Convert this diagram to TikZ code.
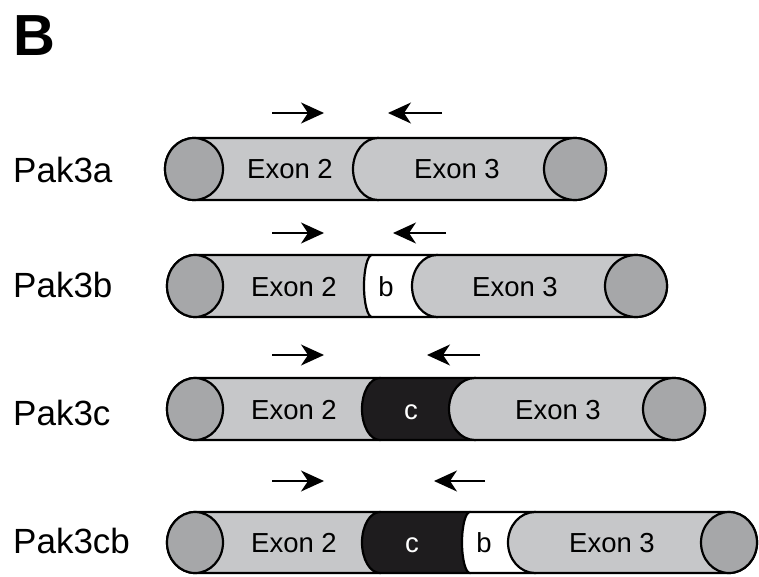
\documentclass[tikz,border=0pt]{standalone}
\usepackage{fontspec}
\setmainfont{Liberation Sans}
\usetikzlibrary{arrows.meta}
\definecolor{bodygray}{RGB}{198,199,201}
\definecolor{capgray}{RGB}{166,167,169}
\definecolor{cblack}{RGB}{30,28,30}
% segment: #1 fill, #2 start x, #3 start rx, #4 end x, #5 end rx, #6 ytop, #7 ybot, #8 ry
\newcommand{\pakseg}[8]{%
  \filldraw[segline, fill=#1] (#2,#6) -- (#4,#6)
    arc[start angle=-90, end angle=90, x radius=#5, y radius=#8]
    -- (#2,#7)
    arc[start angle=90, end angle=270, x radius=#3, y radius=#8] -- cycle;}
\tikzset{
  segline/.style={draw=black, line width=2.2pt, line join=round},
  capend/.style={draw=black, line width=2.2pt, fill=capgray},
  lbl/.style={anchor=base west, inner sep=0pt, font=\fontsize{35}{40}\selectfont},
  extxt/.style={anchor=base, inner sep=0pt, font=\fontsize{27.5}{32}\selectfont},
  primer/.style={line width=1.5pt, -{Stealth[length=23pt,width=21pt,inset=7pt]}},
}
\begin{document}
\begin{tikzpicture}[x=1pt,y=-1pt]
\useasboundingbox (0,0) rectangle (759,576);

\node[anchor=base west, inner sep=0pt, font=\bfseries\fontsize{58}{62}\selectfont] (panel) at (13,55) {B};

% ---------- Row 1: Pak3a ----------
\node[lbl] (l1) at (13,182) {Pak3a};
\pakseg{bodygray}{194}{29}{378}{25}{138}{200}{31}
\pakseg{bodygray}{378}{25}{575}{31}{138}{200}{31}
\draw[capend] (194,169) ellipse [x radius=29, y radius=31];
\draw[capend] (575,169) ellipse [x radius=31, y radius=31];
\node[extxt] (r1e2) at (290,178) {Exon 2};
\node[extxt] (r1e3) at (457,178) {Exon 3};
\coordinate (r1fs) at (272,113); \coordinate (r1fe) at (324,113);
\coordinate (r1rs) at (442,113); \coordinate (r1re) at (388,113);
\draw[primer] (r1fs) -- (r1fe);
\draw[primer] (r1rs) -- (r1re);

% ---------- Row 2: Pak3b ----------
\node[lbl] (l2) at (13,297) {Pak3b};
\pakseg{bodygray}{195}{28}{372}{8}{255}{317}{31}
\pakseg{white}{372}{8}{437}{25}{255}{317}{31}
\pakseg{bodygray}{437}{25}{636}{31}{255}{317}{31}
\draw[capend] (195,286) ellipse [x radius=28, y radius=31];
\draw[capend] (636,286) ellipse [x radius=31, y radius=31];
\node[extxt] (r2e2) at (294,296) {Exon 2};
\node[extxt] (r2b) at (386,296) {b};
\node[extxt] (r2e3) at (515,296) {Exon 3};
\coordinate (r2fs) at (272,233); \coordinate (r2fe) at (324,233);
\coordinate (r2rs) at (446,233); \coordinate (r2re) at (393,233);
\draw[primer] (r2fs) -- (r2fe);
\draw[primer] (r2rs) -- (r2re);

% ---------- Row 3: Pak3c ----------
\node[lbl] (l3) at (13,425) {Pak3c};
\pakseg{bodygray}{195}{28}{380}{18}{378}{440}{31}
\pakseg{cblack}{380}{18}{475}{26}{378}{440}{31}
\pakseg{bodygray}{475}{26}{674}{31}{378}{440}{31}
\draw[capend] (195,409) ellipse [x radius=28, y radius=31];
\draw[capend] (674,409) ellipse [x radius=31, y radius=31];
\node[extxt] (r3e2) at (294,419) {Exon 2};
\node[extxt, text=white] (r3c) at (411,419) {c};
\node[extxt] (r3e3) at (558,419) {Exon 3};
\coordinate (r3fs) at (272,355); \coordinate (r3fe) at (324,355);
\coordinate (r3rs) at (480,355); \coordinate (r3re) at (427,355);
\draw[primer] (r3fs) -- (r3fe);
\draw[primer] (r3rs) -- (r3re);

% ---------- Row 4: Pak3cb ----------
\node[lbl] (l4) at (13,553) {Pak3cb};
\pakseg{bodygray}{195}{28}{380}{18}{512}{573}{30.5}
\pakseg{cblack}{380}{18}{470}{8}{512}{573}{30.5}
\pakseg{white}{470}{8}{535}{27}{512}{573}{30.5}
\pakseg{bodygray}{535}{27}{729}{28}{512}{573}{30.5}
\draw[capend] (195,542.5) ellipse [x radius=28, y radius=30.5];
\draw[capend] (729,542.5) ellipse [x radius=28, y radius=30.5];
\node[extxt] (r4e2) at (294,552) {Exon 2};
\node[extxt, text=white] (r4c) at (412,552) {c};
\node[extxt] (r4b) at (484,552) {b};
\node[extxt] (r4e3) at (612,552) {Exon 3};
\coordinate (r4fs) at (272,481); \coordinate (r4fe) at (324,481);
\coordinate (r4rs) at (485,481); \coordinate (r4re) at (434,481);
\draw[primer] (r4fs) -- (r4fe);
\draw[primer] (r4rs) -- (r4re);
\end{tikzpicture}
\end{document}
